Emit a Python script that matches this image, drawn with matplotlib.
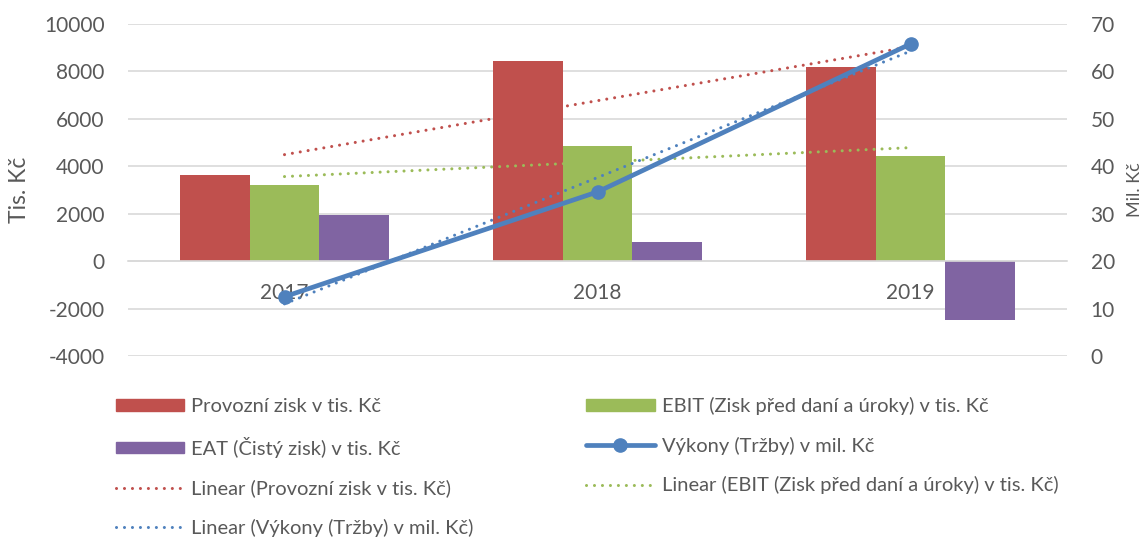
import numpy as np
import matplotlib
matplotlib.use("Agg")
import matplotlib.pyplot as plt
from matplotlib.patches import Patch
from matplotlib.lines import Line2D

plt.rcParams['font.family'] = ['Lato', 'DejaVu Sans']
plt.rcParams['axes.unicode_minus'] = False

years = ["2017", "2018", "2019"]
provozni = [3650, 8450, 8200]
ebit = [3230, 4850, 4450]
eat = [1950, 820, -2500]
vykony = [12.5, 34.6, 65.8]

labels = ["Provozní zisk v tis. Kč", "EBIT (Zisk před daní a úroky) v tis. Kč",
          "EAT (Čistý zisk) v tis. Kč", "Výkony (Tržby) v mil. Kč"]

RED, GREEN, PURPLE, BLUE = "#C0504D", "#9BBB59", "#8064A2", "#4F81BD"
TXT = "#595959"
GRID = "#D9D9D9"
FS = 15
LFS = 14.5
DOT = (0, (0.01, 2.6))
DLW = 2.2

fig = plt.figure(figsize=(11.44, 5.41), dpi=100)
ax = fig.add_axes([0.1119, 0.342, 0.8208, 0.6136])
ax2 = ax.twinx()

x = np.arange(len(years))
w = 0.223
ax.bar(x - w, provozni, w, color=RED, zorder=2)
ax.bar(x, ebit, w, color=GREEN, zorder=2)
ax.bar(x + w, eat, w, color=PURPLE, zorder=2)

def trend(vals):
    k, q = np.polyfit(x, vals, 1)
    return k * x + q

ax.plot(x, trend(provozni), color=RED, lw=DLW, ls=DOT, dash_capstyle='round', zorder=3)
ax.plot(x, trend(ebit), color=GREEN, lw=DLW, ls=DOT, dash_capstyle='round', zorder=3)

ax2.plot(x, vykony, color=BLUE, lw=3.4, marker='o', ms=9.5, solid_capstyle='round', zorder=3)
ax2.plot(x, trend(vykony), color=BLUE, lw=DLW, ls=DOT, dash_capstyle='round', zorder=4)

ax.set_xlim(-0.5, 2.5)
ax.set_ylim(-4000, 10000)
ax.set_yticks(np.arange(-4000, 10001, 2000))
ax2.set_ylim(0, 70)
ax2.set_yticks(np.arange(0, 71, 10))

ax.yaxis.grid(True, color=GRID, lw=1.2, zorder=0)
ax.set_axisbelow(True)
for a in (ax, ax2):
    for s in a.spines.values():
        s.set_visible(False)
ax.spines['bottom'].set_visible(True)
ax.spines['bottom'].set_position(('data', 0))
ax.spines['bottom'].set_color(GRID)
ax.spines['bottom'].set_linewidth(1.2)

ax.set_xticks(x)
ax.set_xticklabels(years)
ax.tick_params(axis='x', length=0, pad=16, labelsize=FS, labelcolor=TXT)
ax.tick_params(axis='y', length=0, pad=17, labelsize=FS, labelcolor=TXT)
ax2.tick_params(axis='y', length=0, pad=17, labelsize=FS, labelcolor=TXT)

ax.set_ylabel("Tis. Kč", fontsize=16.5, color=TXT, labelpad=10)
ax2.set_ylabel("Mil. Kč", fontsize=13, color=TXT, labelpad=9)

h = [Patch(color=RED), Patch(color=PURPLE),
     Line2D([], [], color=RED, lw=DLW, ls=DOT, dash_capstyle='round'),
     Line2D([], [], color=BLUE, lw=DLW, ls=DOT, dash_capstyle='round'),
     Patch(color=GREEN),
     Line2D([], [], color=BLUE, lw=3.4, marker='o', ms=9.5, solid_capstyle='round'),
     Line2D([], [], color=GREEN, lw=DLW, ls=DOT, dash_capstyle='round')]
l = [labels[0], labels[2], "Linear (" + labels[0] + ")", "Linear (" + labels[3] + ")",
     labels[1], labels[3], "Linear (" + labels[1] + ")"]
leg = fig.legend(h, l, ncol=2, loc='upper left', bbox_to_anchor=(0.101, 0.266),
                 frameon=False, fontsize=LFS, handlelength=3.4, handleheight=0.5,
                 handletextpad=0.35, labelspacing=1.07, columnspacing=5.6,
                 borderaxespad=0, borderpad=0)
for t in leg.get_texts():
    t.set_color(TXT)

fig.savefig("out.png", dpi=100)
